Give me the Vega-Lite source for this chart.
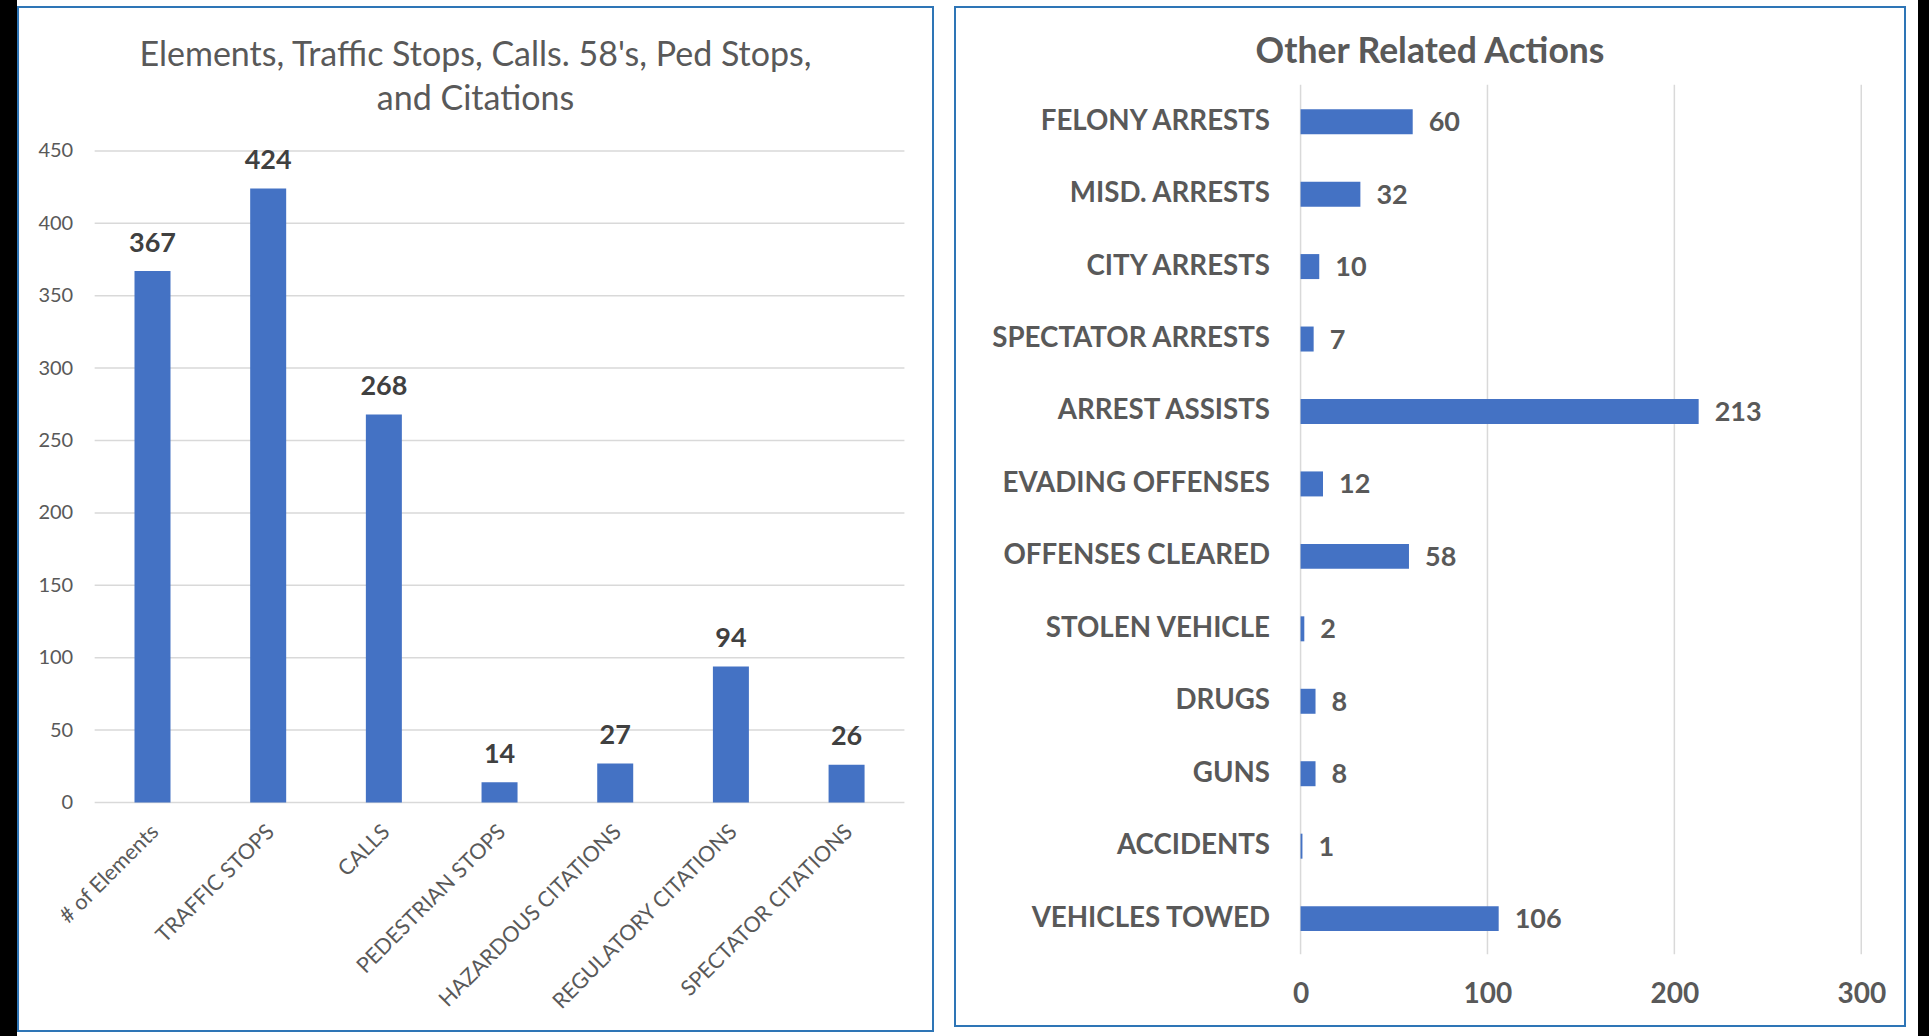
{
  "$schema": "https://vega.github.io/schema/vega-lite/v6.json",
  "padding": 0,
  "background": "white",
  "spacing": 0,
  "config": {
    "font": "Lato",
    "view": {"stroke": null},
    "axis": {"grid": false, "domain": false, "ticks": false, "tickSize": 0, "title": null, "labelOverlap": false, "labelFlush": false}
  },
  "datasets": {
    "left": [
      {"cat": "# of Elements", "value": 367},
      {"cat": "TRAFFIC STOPS", "value": 424},
      {"cat": "CALLS", "value": 268},
      {"cat": "PEDESTRIAN STOPS", "value": 14},
      {"cat": "HAZARDOUS CITATIONS", "value": 27},
      {"cat": "REGULATORY CITATIONS", "value": 94},
      {"cat": "SPECTATOR CITATIONS", "value": 26}
    ],
    "leftGrid": [{"g": 0}, {"g": 50}, {"g": 100}, {"g": 150}, {"g": 200}, {"g": 250}, {"g": 300}, {"g": 350}, {"g": 400}, {"g": 450}],
    "right": [
      {"cat": "FELONY ARRESTS", "value": 60},
      {"cat": "MISD. ARRESTS", "value": 32},
      {"cat": "CITY ARRESTS", "value": 10},
      {"cat": "SPECTATOR ARRESTS", "value": 7},
      {"cat": "ARREST ASSISTS", "value": 213},
      {"cat": "EVADING OFFENSES", "value": 12},
      {"cat": "OFFENSES CLEARED", "value": 58},
      {"cat": "STOLEN VEHICLE", "value": 2},
      {"cat": "DRUGS", "value": 8},
      {"cat": "GUNS", "value": 8},
      {"cat": "ACCIDENTS", "value": 1},
      {"cat": "VEHICLES TOWED", "value": 106}
    ],
    "rightGrid": [{"g": 0}, {"g": 100}, {"g": 200}, {"g": 300}],
    "blank": [{"k": 0}]
  },
  "hconcat": [
    {"width": 17, "height": 1036, "data": {"name": "blank"}, "mark": {"type": "rect", "color": "black", "opacity": 1}, "encoding": {}, "view": {"fill": "black", "stroke": null}},
    {
      "spacing": 0,
      "vconcat": [
        {"width": 915, "height": 6, "data": {"name": "blank"}, "mark": {"type": "rect", "color": "white"}, "encoding": {}},
        {
          "width": 915,
          "height": 1024,
          "view": {"fill": "white", "stroke": "#2E75B6", "strokeWidth": 2},
          "title": {
            "text": ["Elements, Traffic Stops, Calls. 58's, Ped Stops,", "and Citations"],
            "fontSize": 34, "fontWeight": "normal", "color": "#595959", "lineHeight": 44,
            "anchor": "middle", "frame": "group", "offset": -110
          },
          "resolve": {"scale": {"x": "independent"}},
          "layer": [
            {
              "data": {"name": "leftGrid"},
              "mark": {"type": "rule", "color": "#D9D9D9", "strokeWidth": 1.5},
              "encoding": {
                "y": {"field": "g", "type": "quantitative", "scale": {"domain": [-157.8, 549.4], "nice": false, "zero": false}},
                "x": {"datum": -0.5, "type": "quantitative", "scale": {"domain": [-1.1627, 6.747], "nice": false, "zero": false}, "axis": null},
                "x2": {"datum": 6.5}
              }
            },
            {
              "layer": [
                {
                  "data": {"name": "left"},
                  "mark": {"type": "bar", "color": "#4472C4"},
                  "encoding": {
                    "x": {
                      "field": "cat", "type": "nominal", "sort": null,
                      "scale": {"paddingInner": 0.6888, "paddingOuter": 0.7993, "align": 0.63},
                      "axis": {"orient": "bottom", "offset": -228.5, "labelAngle": -45, "labelAlign": "right", "labelBaseline": "middle", "labelPadding": 26, "labelOffset": 3, "labelFontSize": 21.5, "labelColor": "#595959", "labelLimit": 500}
                    },
                    "y": {
                      "field": "value", "type": "quantitative",
                      "scale": {"domain": [-157.8, 549.4], "nice": false, "zero": false},
                      "axis": {"orient": "left", "offset": -54.7, "values": [0, 50, 100, 150, 200, 250, 300, 350, 400, 450], "labelPadding": 0, "labelFontSize": 20, "labelColor": "#595959"}
                    }
                  }
                },
                {
                  "data": {"name": "left"},
                  "mark": {"type": "text", "fontWeight": "bold", "fontSize": 27, "color": "#404040", "baseline": "alphabetic", "dy": -19.5},
                  "encoding": {
                    "x": {"field": "cat", "type": "nominal", "sort": null},
                    "y": {"field": "value", "type": "quantitative"},
                    "text": {"field": "value", "type": "quantitative"}
                  }
                }
              ]
            }
          ]
        }
      ]
    },
    {"width": 20, "height": 6, "data": {"name": "blank"}, "mark": {"type": "rect", "color": "white"}, "encoding": {}},
    {
      "spacing": 0,
      "vconcat": [
        {"width": 950, "height": 6, "data": {"name": "blank"}, "mark": {"type": "rect", "color": "white"}, "encoding": {}},
        {
          "width": 950,
          "height": 1019,
          "view": {"fill": "white", "stroke": "#2E75B6", "strokeWidth": 2},
          "title": {
            "text": "Other Related Actions",
            "fontSize": 35.5, "fontWeight": "bold", "color": "#595959",
            "anchor": "middle", "frame": "group", "offset": -63
          },
          "resolve": {"scale": {"y": "independent"}},
          "layer": [
            {
              "data": {"name": "rightGrid"},
              "mark": {"type": "rule", "color": "#D9D9D9", "strokeWidth": 1.5},
              "encoding": {
                "x": {"field": "g", "type": "quantitative", "scale": {"domain": [-184.9, 323.4], "nice": false, "zero": false}},
                "y": {"datum": -0.5, "type": "quantitative", "scale": {"domain": [-1.5735, 12.491], "nice": false, "zero": false, "reverse": true}, "axis": null},
                "y2": {"datum": 11.5}
              }
            },
            {
              "layer": [
                {
                  "data": {"name": "right"},
                  "mark": {"type": "bar", "color": "#4472C4"},
                  "encoding": {
                    "y": {
                      "field": "cat", "type": "nominal", "sort": null,
                      "scale": {
                        "domain": ["_top", "FELONY ARRESTS", "MISD. ARRESTS", "CITY ARRESTS", "SPECTATOR ARRESTS", "ARREST ASSISTS", "EVADING OFFENSES", "OFFENSES CLEARED", "STOLEN VEHICLE", "DRUGS", "GUNS", "ACCIDENTS", "VEHICLES TOWED", "_bottom"],
                        "paddingInner": 0.655, "paddingOuter": 0.36, "align": 0.57
                      },
                      "axis": {
                        "orient": "left", "offset": -314.5, "labelPadding": 0, "labelAlign": "right", "labelBaseline": "middle", "labelFontSize": 27.7, "labelFontWeight": "bold", "labelColor": "#595959", "labelLimit": 500,
                        "values": ["FELONY ARRESTS", "MISD. ARRESTS", "CITY ARRESTS", "SPECTATOR ARRESTS", "ARREST ASSISTS", "EVADING OFFENSES", "OFFENSES CLEARED", "STOLEN VEHICLE", "DRUGS", "GUNS", "ACCIDENTS", "VEHICLES TOWED"]
                      }
                    },
                    "x": {
                      "field": "value", "type": "quantitative",
                      "scale": {"domain": [-184.9, 323.4], "nice": false, "zero": false},
                      "axis": {"orient": "bottom", "offset": -32, "values": [0, 100, 200, 300], "labelPadding": 0, "labelBaseline": "middle", "labelFontSize": 28, "labelFontWeight": "bold", "labelColor": "#595959"}
                    }
                  }
                },
                {
                  "data": {"name": "right"},
                  "mark": {"type": "text", "fontWeight": "bold", "fontSize": 27, "color": "#595959", "align": "left", "baseline": "middle", "dx": 16, "dy": 1.5},
                  "encoding": {
                    "y": {"field": "cat", "type": "nominal", "sort": null},
                    "x": {"field": "value", "type": "quantitative"},
                    "text": {"field": "value", "type": "quantitative"}
                  }
                }
              ]
            }
          ]
        }
      ]
    },
    {"width": 12, "height": 6, "data": {"name": "blank"}, "mark": {"type": "rect", "color": "white"}, "encoding": {}},
    {"width": 11, "height": 1036, "data": {"name": "blank"}, "mark": {"type": "rect", "color": "black", "opacity": 1}, "encoding": {}, "view": {"fill": "black", "stroke": null}}
  ]
}
